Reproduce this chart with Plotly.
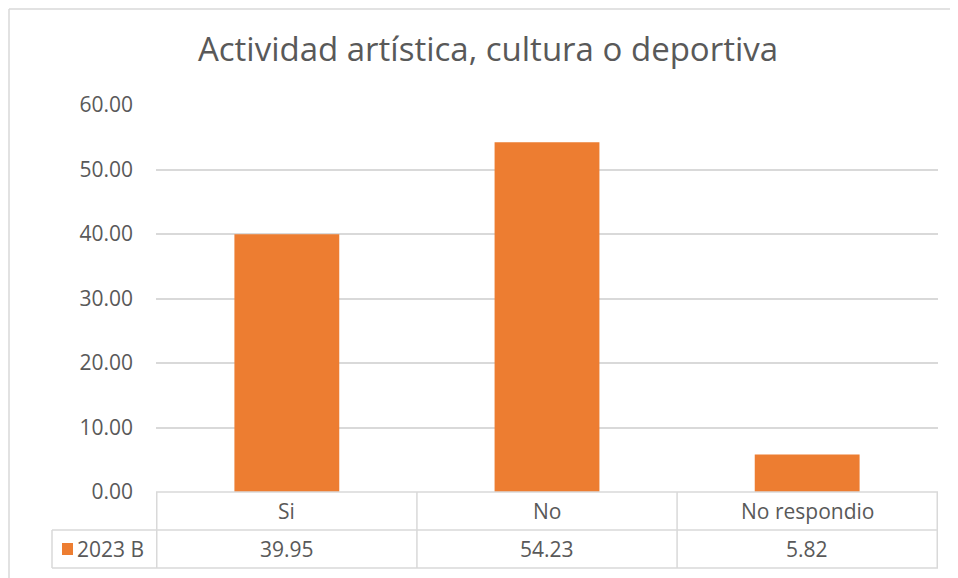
import plotly.graph_objects as go

# datos del gráfico
categorias = ["Si", "No", "No respondio"]
valores = [39.95, 54.23, 5.82]
serie = "2023 B"
ticks_y = [0, 10, 20, 30, 40, 50, 60]

NARANJA = "#ED7D31"
GRIS_LINEA = "#d9d9d9"
GRIS_TEXTO = "#595959"
FUENTE = "Open Sans"

# la página pone el gráfico 8 px desplazado (margen del body)
OFF = 8
W, H = 958, 578
L, R, T, B = 156 - OFF, 20 + OFF, 105 - OFF, 86 + OFF
PW, PH = W - L - R, H - T - B


def px_x(p):
    return (p - OFF - L) / PW


def px_y(p):
    return (H - B - (p - OFF)) / PH


fig = go.Figure(
    go.Bar(
        x=categorias,
        y=valores,
        marker=dict(color=NARANJA, line=dict(width=0)),
        name=serie,
        hoverinfo="x+y",
    )
)

shapes = []
linea = dict(color=GRIS_LINEA, width=1.5)

# marco exterior (lo más cerca posible del borde de la figura)
borde = OFF + 1
shapes.append(dict(type="line", xref="paper", yref="paper",
                   x0=px_x(borde), x1=px_x(borde), y0=px_y(borde), y1=px_y(H + 20), line=linea))
shapes.append(dict(type="line", xref="paper", yref="paper",
                   x0=px_x(borde), x1=px_x(W + 20), y0=px_y(borde), y1=px_y(borde), line=linea))

# tabla de datos
fila1, fila2, fila3 = 492, 530, 568
for yy in (fila1, fila2, fila3):
    x_ini = 156 if yy == fila1 else 52
    shapes.append(dict(type="line", xref="paper", yref="paper",
                       x0=px_x(x_ini), x1=1, y0=px_y(yy), y1=px_y(yy), line=linea))
for i in range(len(categorias) + 1):
    shapes.append(dict(type="line", xref="x", yref="paper",
                       x0=i - 0.5, x1=i - 0.5, y0=px_y(fila1), y1=px_y(fila3), line=linea))
shapes.append(dict(type="line", xref="paper", yref="paper",
                   x0=px_x(52), x1=px_x(52), y0=px_y(fila2), y1=px_y(fila3), line=linea))
# clave de leyenda
shapes.append(dict(type="rect", xref="paper", yref="paper",
                   x0=px_x(62), x1=px_x(73), y0=px_y(543), y1=px_y(555),
                   fillcolor=NARANJA, line=dict(width=0)))

tam = 21
annotations = []
for cat, val in zip(categorias, valores):
    annotations.append(dict(x=cat, xref="x", y=px_y((fila1 + fila2) / 2), yref="paper",
                            text=cat, showarrow=False, yanchor="middle",
                            font=dict(size=tam, color=GRIS_TEXTO, family=FUENTE)))
    annotations.append(dict(x=cat, xref="x", y=px_y((fila2 + fila3) / 2), yref="paper",
                            text=f"{val:.2f}", showarrow=False, yanchor="middle",
                            font=dict(size=tam, color=GRIS_TEXTO, family=FUENTE)))
annotations.append(dict(x=px_x(75), xref="paper", y=px_y((fila2 + fila3) / 2), yref="paper",
                        text=serie, showarrow=False, xanchor="left", yanchor="middle",
                        font=dict(size=tam, color=GRIS_TEXTO, family=FUENTE)))

fig.update_layout(
    width=W,
    height=H,
    margin=dict(l=L, r=R, t=T, b=B),
    paper_bgcolor="white",
    plot_bgcolor="white",
    showlegend=False,
    bargap=0.597,
    title=dict(
        text="Actividad artística, cultura o deportiva",
        x=(488 - OFF) / W,
        xanchor="center",
        y=1 - (49 - OFF) / H,
        yanchor="middle",
        font=dict(size=33, color=GRIS_TEXTO, family=FUENTE),
    ),
    shapes=shapes,
    annotations=annotations,
    font=dict(family=FUENTE, color=GRIS_TEXTO),
)

fig.update_xaxes(showticklabels=False, showline=False, showgrid=False, zeroline=False)
fig.update_yaxes(
    range=[0, 60],
    tickvals=ticks_y,
    tickformat=".2f",
    showgrid=True,
    gridcolor=GRIS_LINEA,
    gridwidth=1.5,
    zeroline=False,
    showline=False,
    ticks="",
    ticklabelstandoff=22,
    tickfont=dict(size=tam, color=GRIS_TEXTO, family=FUENTE),
)

fig.write_html("out.html")
